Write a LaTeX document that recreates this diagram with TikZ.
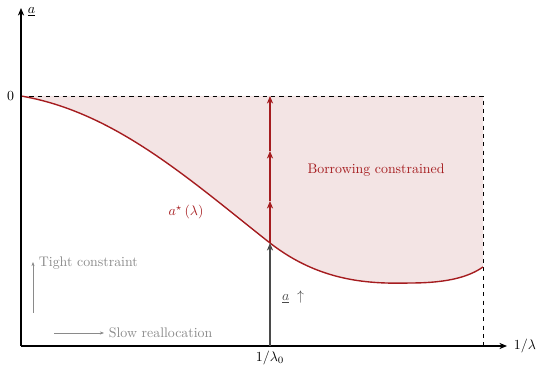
\documentclass[tikz,border=0pt]{standalone}
\usepackage{tikz}
\usetikzlibrary{arrows.meta}
\definecolor{bound}{HTML}{A51C1F}
\definecolor{region}{HTML}{F3E4E4}
\definecolor{note}{HTML}{8A8A8A}
\definecolor{push}{HTML}{4A4A4A}

\begin{document}
\begin{tikzpicture}[x=0.72pt, y=-0.72pt, >={Stealth[length=5.5pt, width=4.5pt]}]
      \useasboundingbox (0,0) rectangle (537,367);
      \coordinate (O) at (21,346);
      \coordinate (ytop) at (21,8);
      \coordinate (xend) at (507,346);
      \coordinate (zero) at (21,96);
      \coordinate (corner) at (483,96);
      \coordinate (foot) at (483,346);
      \coordinate (cross) at (270,243);
      \coordinate (tail) at (483,267);
      \coordinate (lam) at (270,346);
      \coordinate (cap) at (270,96);
      % shaded region above the curve
      \fill[region] (zero) .. controls (115,112) and (190,180) .. (cross) .. controls (320,282) and (370,284) .. (410,283) .. controls (450,283) and (470,276) .. (tail) -- (corner) -- cycle;
      \draw[dashed, thin] (zero) -- (corner) -- (foot);
      \draw[bound, line width=1pt] (zero) .. controls (115,112) and (190,180) .. (cross) .. controls (320,282) and (370,284) .. (410,283) .. controls (450,283) and (470,276) .. (tail);
      % axes
      \draw[->, thick] (O) -- (ytop);
      \draw[->, thick] (O) -- (xend);
      \node[anchor=west] (ylab) at (23,12) {$\underline{a}$};
      \node[anchor=west] (xlab) at (509,346) {$1/\lambda$};
      \node[anchor=east] (zlab) at (19,96) {$0$};
      \node[below] (lamlab) at (lam) {$1/\lambda_0$};
      % rising lower bound
      \draw[->, push, thick] (lam) -- (cross);
      \node[push] (uplab) at (293,297) {$\underline{a}\;\uparrow$};
      \coordinate (m1) at (270,201);
      \coordinate (m2) at (270,151);
      \foreach \a/\b in {cross/m1, m1/m2, m2/cap} {
        \draw[->, bound, thick] (\a) -- (\b);
      }
      \node[bound] (label) at (376,170) {Borrowing constrained};
      \node[bound] (curvelab) at (186,212) {$a^{\star}\left(\lambda\right)$};
      % legend arrows
      \coordinate (t0) at (33,313);
      \coordinate (t1) at (33,262);
      \coordinate (s0) at (54,333);
      \coordinate (s1) at (104,333);
      \draw[->, note, >={Stealth[length=3pt]}] (t0) -- (t1);
      \draw[->, note, >={Stealth[length=3pt]}] (s0) -- (s1);
      \node[note, anchor=west] (tight) at (34,263) {Tight constraint};
      \node[note, anchor=west] (slow) at (104,333) {Slow reallocation};
    \end{tikzpicture}
\end{document}
